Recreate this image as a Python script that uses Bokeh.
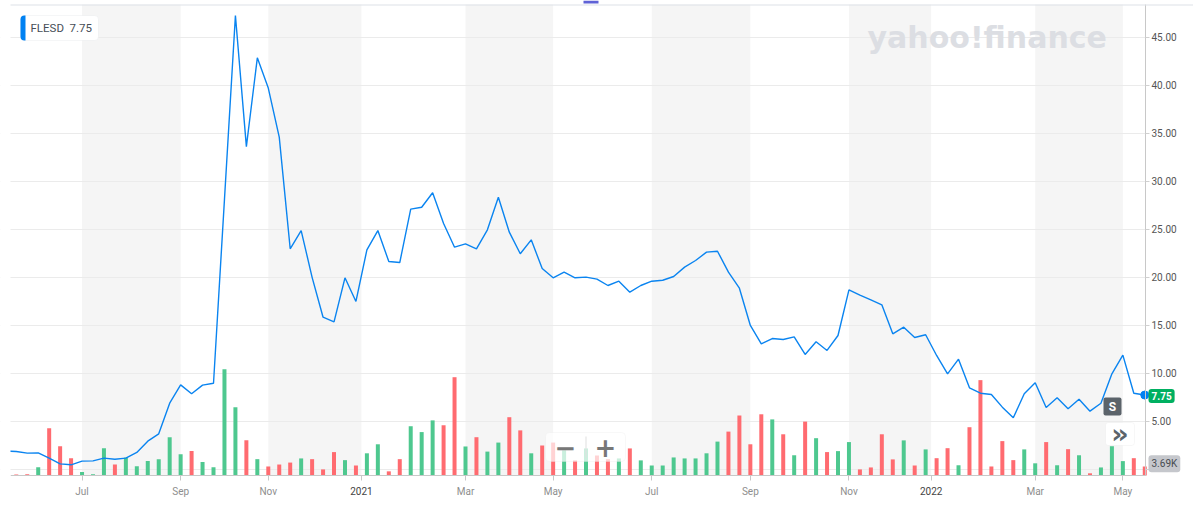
import numpy as np
import pandas as pd
from bokeh.plotting import figure
from bokeh.models import (Range1d, FixedTicker, BoxAnnotation, Label, Grid,
                          NumeralTickFormatter, ColumnDataSource)
from bokeh.embed import file_html
from bokeh.resources import INLINE

# ---------------- data ----------------
symbol = "FLESD"
start_date = "2020-05-17"          # weekly points
close = [1.92, 1.87, 1.70, 1.72, 1.18, 0.59, 0.49, 0.87, 0.90, 1.18, 1.07,
         1.18, 1.77, 2.95, 3.71, 6.90, 8.81, 7.88, 8.78, 8.98, 28.1,
         47.25, 33.6, 42.85, 39.7, 34.6, 22.97, 24.87, 20.0, 15.85, 15.37,
         19.95, 17.49, 22.86, 24.87, 21.65, 21.54, 27.1, 27.3, 28.8, 25.6,
         23.14, 23.49, 22.97, 24.95, 28.34, 24.7, 22.45, 23.9, 20.92, 19.95,
         20.54, 19.95, 20.02, 19.81, 19.15, 19.6, 18.46, 19.15, 19.6, 19.7,
         20.09, 21.06, 21.75, 22.62, 22.72, 20.54, 18.87, 14.99, 13.08, 13.63,
         13.53, 13.81, 11.97, 13.29, 12.39, 13.95, 18.7, 18.14, 17.66, 17.14,
         14.12, 14.81, 13.74, 14.02, 11.87, 9.96, 11.48, 8.5, 7.94, 7.81,
         6.49, 5.38, 7.88, 9.02, 6.45, 7.46, 6.32, 7.32, 6.07, 6.9,
         9.96, 11.9, 7.94, 7.75]
volume_k = [0.5, 0.4, 0.5, 3.4, 19.4, 12.0, 7.1, 1.4, 0.5, 11.2, 4.5,
            7.4, 3.8, 5.9, 6.7, 15.7, 8.7, 10.0, 5.5, 3.4, 43.6,
            28.0, 14.5, 6.7, 3.7, 4.5, 5.3, 7.0, 6.7, 2.5, 9.6,
            6.3, 4.1, 9.1, 12.8, 1.7, 6.7, 20.2, 17.8, 22.6, 20.6,
            40.3, 11.9, 15.7, 9.8, 13.5, 23.9, 18.5, 9.1, 12.3, 13.5,
            10.3, 6.2, 11.1, 8.2, 6.7, 7.0, 11.1, 6.2, 4.1, 4.1,
            7.4, 7.0, 7.0, 9.1, 13.9, 18.0, 24.6, 12.8, 25.1, 23.0,
            16.9, 8.3, 22.1, 15.3, 9.6, 10.0, 13.7, 2.5, 3.3, 16.9,
            6.6, 14.4, 4.1, 10.7, 7.1, 11.2, 4.2, 19.8, 39.1, 3.7,
            14.1, 6.3, 10.7, 5.0, 13.7, 4.2, 10.8, 8.3, 0.9, 3.3,
            12.0, 5.9, 7.1, 3.69]
tick_labels = ["Jul", "Sep", "Nov", "2021", "Mar", "May",
               "Jul", "Sep", "Nov", "2022", "Mar", "May"]
price_ticks = [0, 5, 10, 15, 20, 25, 30, 35, 40, 45]

# ---------------- layout helpers (canvas pixel -> data) ----------------
W, H = 1193, 507
X0, DX = 4.844, 10.956
Y0, DY = 469.0, 9.608
VOL_PER_PX = 0.41
PLOT_L, PLOT_R, PLOT_T, PLOT_B = 10, 1145, 4, 475

def px2x(px):
    return (px - X0) / DX

def py2y(py):
    return (Y0 - py) / DY

dates = pd.date_range(start_date, periods=len(close), freq="7D")
x = np.arange(len(close))

tick_pos, tick_month = [], []
for i in range(1, len(dates)):
    if dates[i].month != dates[i - 1].month and dates[i].month % 2 == 1:
        tick_pos.append(i - 0.5 if dates[i].month == 1 else float(i))
        tick_month.append(dates[i].month)

GREEN, RED = "#4ec88f", "#ff6b70"
colors = [RED] + [GREEN if close[i] >= close[i - 1] else RED for i in range(1, len(close))]
src = ColumnDataSource(dict(x=x, close=close, vol=volume_k, color=colors))

p = figure(frame_width=W, frame_height=H,
           x_range=Range1d(px2x(0), px2x(W)),
           y_range=Range1d(py2y(H), py2y(0)),
           y_axis_location="right", output_backend="svg", toolbar_location=None,
           min_border=0, min_border_left=0, min_border_right=0,
           min_border_top=0, min_border_bottom=0,
           background_fill_color="white", border_fill_color="white",
           outline_line_color=None)
p.extra_y_ranges = {"vol": Range1d(-(H - PLOT_B) * VOL_PER_PX, PLOT_B * VOL_PER_PX)}

# month bands
for k in range(len(tick_pos)):
    if tick_month[k] in (3, 7, 11):
        right = tick_pos[k + 1] if k + 1 < len(tick_pos) else px2x(PLOT_R)
        p.add_layout(BoxAnnotation(left=tick_pos[k], right=right,
                                   top=py2y(PLOT_T), bottom=py2y(PLOT_B),
                                   fill_color="#f5f5f5", fill_alpha=1, line_color=None,
                                   level="underlay"))
grids = [r for r in p.center if isinstance(r, Grid)]
p.center = [r for r in p.center if not isinstance(r, Grid)] + grids
# keep grid lines inside the plotting area
p.add_layout(BoxAnnotation(left=px2x(PLOT_R), right=px2x(W), fill_color="white",
                           fill_alpha=1, line_color=None, level="underlay"))

p.xgrid.grid_line_color = None
yt = FixedTicker(ticks=price_ticks)
p.yaxis.ticker = yt
p.ygrid.ticker = yt
p.ygrid.grid_line_color = "#ebebeb"

yax = p.yaxis[0]
yax.fixed_location = px2x(PLOT_R)
yax.bounds = (py2y(PLOT_B), py2y(PLOT_T))
yax.formatter = NumeralTickFormatter(format="0.00")
yax.major_label_overrides = {0: ""}
yax.axis_line_color = "#c8c8c8"
yax.major_tick_line_color = "#d0d0d0"
yax.major_tick_out = 4
yax.major_tick_in = 0
yax.minor_tick_line_color = None
yax.major_label_standoff = 2
yax.major_label_text_font = "Roboto"
yax.major_label_text_font_size = "10px"
yax.major_label_text_color = "#555555"

xax = p.xaxis[0]
xax.fixed_location = py2y(PLOT_B)
xax.bounds = (px2x(PLOT_L), px2x(PLOT_R))
xax.ticker = FixedTicker(ticks=tick_pos)
xax.major_label_overrides = {t: "" for t in tick_pos}
xax.axis_line_color = "#c8c8c8"
xax.major_tick_line_color = "#c8c8c8"
xax.major_tick_out = 5
xax.major_tick_in = 0
xax.minor_tick_line_color = None

# volume bars and price line
p.vbar(x="x", top="vol", bottom=0, width=0.365, y_range_name="vol",
       fill_color="color", line_color=None, source=src)
p.line(x="x", y="close", line_color="#0a84f0", line_width=1.4, source=src)
p.scatter(x=[x[-1]], y=[close[-1]], size=8, fill_color="#0081f2", line_color="#0081f2")

# left edge of plotting area
p.add_layout(BoxAnnotation(left=px2x(0), right=px2x(PLOT_L), fill_color="white",
                           fill_alpha=1, line_color=None))
# top border and marker
p.add_layout(BoxAnnotation(left=px2x(PLOT_L), right=px2x(W), top=py2y(PLOT_T),
                           bottom=py2y(PLOT_T + 1), fill_color="#dde1e7", fill_alpha=1,
                           line_color=None))
p.add_layout(BoxAnnotation(left=px2x(583), right=px2x(598), top=py2y(0), bottom=py2y(3),
                           fill_color="#5f62d6", fill_alpha=1, line_color=None))

# x tick labels
for pos, lab, m in zip(tick_pos, tick_labels, tick_month):
    p.add_layout(Label(x=pos, y=py2y(490.5), text=lab, text_align="center",
                       text_baseline="middle", text_font="Roboto", text_font_size="10px",
                       text_color="#444444" if m == 1 else "#8e8e8e"))

# watermark
p.add_layout(Label(x=px2x(867), y=py2y(37), text="yahoo!finance", text_font="DejaVu Sans",
                   text_font_style="bold", text_font_size="30px", text_color="#dcdee3",
                   text_baseline="alphabetic", text_align="left"))

# legend tag
p.add_layout(BoxAnnotation(left=px2x(20), right=px2x(98), top=py2y(15), bottom=py2y(40),
                           fill_color="white", fill_alpha=1, line_color="#dfe1e5",
                           line_width=1, border_radius=4))
p.add_layout(BoxAnnotation(left=px2x(20), right=px2x(25), top=py2y(15), bottom=py2y(40),
                           fill_color="#0081f2", fill_alpha=1, line_color=None,
                           border_radius=(4, 0, 0, 4)))
p.add_layout(Label(x=px2x(30), y=py2y(27.5), text=symbol, text_font="Roboto",
                   text_font_size="11.5px", text_color="#464e56", text_baseline="middle"))
p.add_layout(Label(x=px2x(69), y=py2y(27.5), text=f"{close[-1]:.2f}", text_font="Roboto",
                   text_font_size="11.5px", text_color="#464e56", text_baseline="middle"))

# zoom control
p.add_layout(BoxAnnotation(left=px2x(545), right=px2x(625), top=py2y(432), bottom=py2y(461),
                           fill_color="white", fill_alpha=0.7, line_color="#e8e8e8",
                           line_width=1, border_radius=4))
p.add_layout(BoxAnnotation(left=px2x(585), right=px2x(586), top=py2y(436), bottom=py2y(457),
                           fill_color="#e0e0e0", fill_alpha=1, line_color=None))
for cx, sym in ((565, "\u2212"), (605, "+")):
    p.add_layout(Label(x=px2x(cx), y=py2y(446.5), text=sym, text_align="center",
                       text_baseline="middle", text_font="DejaVu Sans", text_font_style="bold",
                       text_font_size="26px", text_color="#777777"))

# S marker and >> button
p.add_layout(BoxAnnotation(left=px2x(1103), right=px2x(1121), top=py2y(397), bottom=py2y(415),
                           fill_color="#5b636a", fill_alpha=1, line_color=None, border_radius=2))
p.add_layout(Label(x=px2x(1112), y=py2y(406), text="S", text_align="center",
                   text_baseline="middle", text_font="Roboto", text_font_style="bold",
                   text_font_size="12px", text_color="white"))
p.add_layout(BoxAnnotation(left=px2x(1105), right=px2x(1134), top=py2y(422), bottom=py2y(445),
                           fill_color="white", fill_alpha=1, line_color="#e3e3e3",
                           line_width=1, border_radius=3))
p.add_layout(Label(x=px2x(1119.5), y=py2y(433), text="\u00bb", text_align="center",
                   text_baseline="middle", text_font="DejaVu Sans", text_font_style="bold",
                   text_font_size="27px", text_color="#5b636a"))

# last price / last volume tags
p.add_layout(Label(x=px2x(1148), y=py2y(395.5), text=f"{close[-1]:.2f}", text_font="Roboto",
                   text_font_style="bold", text_font_size="10px", text_color="white",
                   text_baseline="middle", background_fill_color="#00b061",
                   background_fill_alpha=1, padding=3, border_radius=3))
p.add_layout(Label(x=px2x(1148), y=py2y(463.3), text=f"{volume_k[-1]:.2f}K", text_font="Roboto",
                   text_font_size="10px", text_color="#474c52",
                   text_baseline="middle", background_fill_color="#c5c7cc",
                   background_fill_alpha=1, padding=3, border_radius=3))

open("out.html", "w").write(file_html(p, INLINE))
